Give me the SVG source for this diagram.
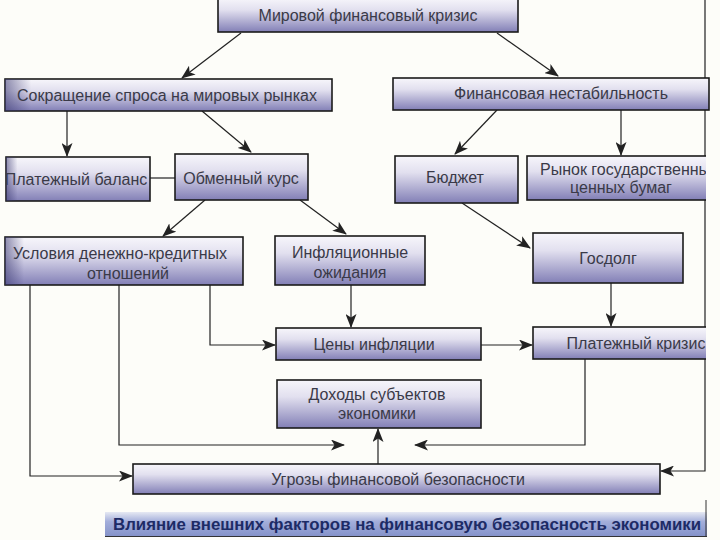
<svg xmlns="http://www.w3.org/2000/svg" width="720" height="540" viewBox="0 0 720 540">
<defs>
<linearGradient id="boxg" x1="0" y1="0" x2="0" y2="1">
<stop offset="0" stop-color="#f7f6fb"/>
<stop offset="0.35" stop-color="#e2e0ef"/>
<stop offset="1" stop-color="#827fb6"/>
</linearGradient>
<linearGradient id="edge" x1="0" y1="0" x2="1" y2="0">
<stop offset="0" stop-color="#3a3870" stop-opacity="0.55"/>
<stop offset="0.08" stop-color="#3a3870" stop-opacity="0"/>
<stop offset="1" stop-color="#3a3870" stop-opacity="0"/>
</linearGradient>
<linearGradient id="titleg" x1="0" y1="0" x2="0" y2="1">
<stop offset="0" stop-color="#e6e9f3"/>
<stop offset="0.4" stop-color="#a3aedb"/>
<stop offset="1" stop-color="#8593c8"/>
</linearGradient>
<marker id="arr" viewBox="0 0 14 11" refX="13" refY="5.5" markerWidth="14" markerHeight="11" markerUnits="userSpaceOnUse" orient="auto">
<path d="M0,0 L14,5.5 L0,11 L3.5,5.5 Z" fill="#222"/>
</marker>
<clipPath id="clipR"><rect x="0" y="0" width="706" height="540"/></clipPath>
</defs>
<style>
.box{fill:url(#boxg);stroke:#1b1b1b;stroke-width:1.6}
.edge{fill:url(#edge);stroke:none}
.t{font-family:"Liberation Sans",Arial,sans-serif;font-size:16px;fill:#3a3a48;text-anchor:middle}
.c{fill:none;stroke:#222;stroke-width:1.2}
.ca{fill:none;stroke:#222;stroke-width:1.2;marker-end:url(#arr)}
</style>
<rect x="0" y="0" width="720" height="540" fill="#fdfdf9"/>

<g id="connectors">
<line class="ca" x1="241" y1="33" x2="182" y2="78"/>
<line class="ca" x1="497" y1="33" x2="558" y2="76"/>
<line class="ca" x1="67" y1="111" x2="67" y2="156"/>
<line class="ca" x1="202" y1="111" x2="251" y2="152"/>
<line class="c" x1="150" y1="178" x2="175" y2="178" stroke="#888"/>
<line class="ca" x1="205" y1="200" x2="163" y2="236"/>
<line class="ca" x1="300" y1="200" x2="346" y2="234"/>
<line class="ca" x1="497" y1="110" x2="455" y2="154"/>
<line class="ca" x1="621" y1="110" x2="621" y2="155"/>
<line class="ca" x1="462" y1="203" x2="530" y2="248"/>
<line class="ca" x1="351" y1="285" x2="351" y2="327"/>
<path class="ca" d="M210,285 V345 H275"/>
<line class="ca" x1="481" y1="345" x2="532" y2="345"/>
<line class="ca" x1="611" y1="283" x2="611" y2="326"/>
<path class="ca" d="M119,285 V445 H344"/>
<path class="ca" d="M585,359 V445 H415"/>
<line class="ca" x1="378" y1="464" x2="378" y2="429"/>
<path class="ca" d="M30,285 V476 H132" stroke="#5a4a40"/>
<path class="ca" d="M705,0 V471 H661"/>
</g>

<g id="n-mirovoy">
<rect class="box" x="218" y="-2" width="300" height="34"/>
<text class="t" x="368" y="21">Мировой финансовый кризис</text>
</g>
<g id="n-sokrashchenie">
<rect class="box" x="5" y="79" width="327" height="32"/>
<rect class="edge" x="5" y="79" width="327" height="32"/>
<text class="t" x="167" y="101">Сокращение спроса на мировых рынках</text>
</g>
<g id="n-nestabilnost">
<rect class="box" x="393" y="78" width="316" height="32"/>
<text class="t" x="561" y="99">Финансовая нестабильность</text>
</g>
<g id="n-balans">
<rect class="box" x="6" y="157" width="144" height="44"/>
<rect class="edge" x="6" y="157" width="144" height="44"/>
<text class="t" x="76" y="185">Платежный баланс</text>
</g>
<g id="n-kurs">
<rect class="box" x="175" y="154" width="133" height="46"/>
<text class="t" x="241" y="184">Обменный курс</text>
</g>
<g id="n-budzhet">
<rect class="box" x="395" y="156" width="123" height="47"/>
<text class="t" x="455" y="183">Бюджет</text>
</g>
<g id="n-rynok" clip-path="url(#clipR)">
<rect class="box" x="527" y="156" width="182" height="44"/>
<text class="t" x="540" y="175" style="text-anchor:start">Рынок государственных</text>
<text class="t" x="621" y="193">ценных бумаг</text>
</g>
<g id="n-usloviya">
<rect class="box" x="5" y="237" width="238" height="48"/>
<rect class="edge" x="5" y="237" width="238" height="48"/>
<text class="t" x="120" y="259">Условия денежно-кредитных</text>
<text class="t" x="128" y="279">отношений</text>
</g>
<g id="n-inflyacionnye">
<rect class="box" x="275" y="236" width="150" height="49"/>
<text class="t" x="350" y="258">Инфляционные</text>
<text class="t" x="350" y="278">ожидания</text>
</g>
<g id="n-gosdolg">
<rect class="box" x="533" y="233" width="150" height="50"/>
<text class="t" x="608" y="264">Госдолг</text>
</g>
<g id="n-ceny">
<rect class="box" x="276" y="328" width="205" height="32"/>
<text class="t" x="374" y="350">Цены инфляции</text>
</g>
<g id="n-platezhny-krizis" clip-path="url(#clipR)">
<rect class="box" x="533" y="327" width="176" height="32"/>
<text class="t" x="636" y="349">Платежный кризис</text>
</g>
<g id="n-dohody">
<rect class="box" x="277" y="380" width="204" height="48"/>
<text class="t" x="377" y="400">Доходы субъектов</text>
<text class="t" x="377" y="419">экономики</text>
</g>
<g id="n-ugrozy">
<rect class="box" x="133" y="464" width="527" height="30"/>
<text class="t" x="398" y="485">Угрозы финансовой безопасности</text>
</g>

<g id="title">
<rect x="105" y="512" width="602" height="24" fill="url(#titleg)"/>
<line x1="105" y1="536.5" x2="707" y2="536.5" stroke="#333" stroke-width="1"/>
<line x1="706" y1="500" x2="706" y2="536" stroke="#333" stroke-width="1"/>
<text x="113" y="530" font-family="'Liberation Sans',Arial,sans-serif" font-size="16" font-weight="bold" fill="#1d2b66" textLength="588" lengthAdjust="spacingAndGlyphs">Влияние внешних факторов на финансовую безопасность экономики</text>
</g>
</svg>
